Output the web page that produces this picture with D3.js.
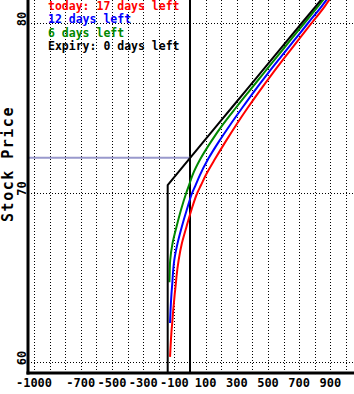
<!DOCTYPE html>
<html lang="en">
  <head>
    <meta charset="UTF-8" />
    <title>Stock Price</title>
    <style>
      body { margin: 0; background: #fff; }
      .chart text { font-family: "DejaVu Sans Mono", monospace; font-weight: bold; }
    </style>
  </head>
  <body>
    <div class="chart"></div>

    <script src="https://d3js.org/d3.v7.min.js"></script>
    <script>
      // stock prices (y) and profit/loss (x)
      const prices = [59.3, 60.3, 61, 62, 62.3, 63, 64, 64.7, 65, 66, 67, 68, 69, 70, 70.44, 71, 72, 73, 74, 75, 76, 77, 78, 79, 80, 81, 81.4]
      const pnlToday = [null, -128, -124, -117, -114, -108, -98, -90, -87, -73, -52, -22, 10, 48, 71, 100, 162, 228, 297, 370, 447, 527, 610, 695, 780, 865, 895]
      const pnl12 = [null, null, null, null, -128, -125, -119, -113, -111, -101, -80, -52, -20, 15, 36, 62, 118, 185, 258, 335, 414, 497, 583, 670, 757, 845, 878]
      const pnl6 = [null, null, null, null, null, null, null, -132, -131, -127, -112, -86, -57, -23, -6, 15, 68, 135, 210, 294, 381, 469, 557, 645, 734, 822, 857]
      const pnlExpiry = [-143, -143, -143, -143, -143, -143, -143, -143, -143, -143, -143, -143, -143, -143, -143, -93, -3, 87, 177, 267, 357, 447, 537, 627, 717, 807, 843]
      const currentPrice = 72.05

      const series = [
        { label: 'today: 17 days left', color: '#ff0000', values: pnlToday, smooth: true },
        { label: '12 days left', color: '#0000ff', values: pnl12, smooth: true },
        { label: '6 days left', color: '#008800', values: pnl6, smooth: true },
        { label: 'Expiry: 0 days left', color: '#000000', values: pnlExpiry, smooth: false }
      ]

      const xTicks = [-1000, -700, -500, -300, -100, 100, 300, 500, 700, 900]
      const xGrid = d3.range(-1000, 1001, 100).filter(v => v !== 0)
      const yTicks = [60, 70, 80]

      const width = 354
      const height = 394
      const left = 28
      const bottom = 373

      const svg = d3.select('.chart')
        .append('svg')
        .attr('width', width)
        .attr('height', height)

      const xScale = d3.scaleLinear()
        .domain([-1000, 1000])
        .range([34, 346])

      const yScale = d3.scaleLinear()
        .domain([60, 80])
        .range([362, 23])

      // dotted grid
      svg.append('g')
        .selectAll('line')
        .data(xGrid)
        .join('line')
        .attr('x1', d => Math.round(xScale(d)) + 0.5)
        .attr('x2', d => Math.round(xScale(d)) + 0.5)
        .attr('y1', 0)
        .attr('y2', bottom)
        .attr('stroke', '#000')
        .attr('stroke-dasharray', '1,2')

      svg.append('g')
        .selectAll('line')
        .data(yTicks)
        .join('line')
        .attr('x1', left)
        .attr('x2', width)
        .attr('y1', d => Math.round(yScale(d)) + 0.5)
        .attr('y2', d => Math.round(yScale(d)) + 0.5)
        .attr('stroke', '#000')
        .attr('stroke-dasharray', '1,2')

      // zero line
      svg.append('line')
        .attr('x1', xScale(0))
        .attr('x2', xScale(0))
        .attr('y1', 0)
        .attr('y2', bottom)
        .attr('stroke', '#000')
        .attr('stroke-width', 2)

      // current price marker
      svg.append('line')
        .attr('x1', left)
        .attr('x2', xScale(0))
        .attr('y1', yScale(currentPrice))
        .attr('y2', yScale(currentPrice))
        .attr('stroke', '#9999cc')
        .attr('stroke-width', 2)

      // curves
      const makeLine = smooth => d3.line()
        .defined(d => d[1] !== null)
        .x(d => xScale(d[1]))
        .y(d => yScale(d[0]))
        .curve(smooth ? d3.curveMonotoneY : d3.curveLinear)

      svg.append('g')
        .selectAll('path')
        .data(series)
        .join('path')
        .attr('d', s => makeLine(s.smooth)(prices.map((p, i) => [p, s.values[i]])))
        .attr('fill', 'none')
        .attr('stroke', s => s.color)
        .attr('stroke-width', 2)

      // axes
      svg.append('line')
        .attr('x1', left)
        .attr('x2', left)
        .attr('y1', 0)
        .attr('y2', bottom + 1.5)
        .attr('stroke', '#000')
        .attr('stroke-width', 3)

      svg.append('line')
        .attr('x1', left - 1.5)
        .attr('x2', width)
        .attr('y1', bottom)
        .attr('y2', bottom)
        .attr('stroke', '#000')
        .attr('stroke-width', 3)

      svg.append('g')
        .selectAll('text')
        .data(xTicks)
        .join('text')
        .attr('x', d => xScale(d))
        .attr('y', 387)
        .attr('text-anchor', 'middle')
        .style('font-size', '12px')
        .text(d => d)

      svg.append('g')
        .selectAll('text')
        .data(yTicks)
        .join('text')
        .attr('transform', d => `translate(26, ${yScale(d) - 4}) rotate(-90)`)
        .attr('text-anchor', 'middle')
        .style('font-size', '12px')
        .text(d => d)

      svg.append('text')
        .attr('transform', 'translate(13, 164) rotate(-90)')
        .attr('text-anchor', 'middle')
        .style('font-size', '15px')
        .style('letter-spacing', '1.5px')
        .text('Stock Price')

      // legend
      svg.append('g')
        .selectAll('text')
        .data(series)
        .join('text')
        .attr('x', 48)
        .attr('y', (d, i) => 10 + i * 13.35)
        .attr('fill', d => d.color)
        .style('font-size', '11.5px')
        .text(d => d.label)
    </script>
  </body>
</html>
